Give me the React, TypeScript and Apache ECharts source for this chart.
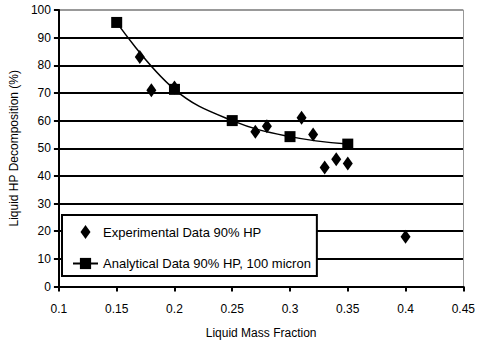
import React, { useEffect, useRef } from "react";
import * as echarts from "echarts";

const expX = [0.17, 0.18, 0.2, 0.27, 0.28, 0.31, 0.32, 0.33, 0.34, 0.35, 0.4];
const expY = [83, 71, 72, 56, 58, 61, 55, 43, 46, 44.5, 18];
const anaX = [0.15, 0.2, 0.25, 0.3, 0.35];
const anaY = [95.5, 71.3, 60, 54.2, 51.5];
const seriesNames = ["Experimental Data 90% HP", "Analytical Data 90% HP, 100 micron"];
const yColors = ["#000", "#000", "#000", "#000", "#000", "#000", "#000", "#000", "#000", "#000", "#999"];
const xColors = ["transparent", "transparent", "transparent", "transparent", "transparent", "transparent", "transparent", "#999"];

const FONT = "'Liberation Sans', Arial, sans-serif";

export default function App() {
  const ref = useRef<HTMLDivElement>(null);
  useEffect(() => {
    const chart = echarts.init(ref.current!, null, { renderer: "svg" });
    chart.setOption({
      animation: false,
      backgroundColor: "#fff",
      textStyle: { fontFamily: FONT, color: "#000" },
      grid: { left: 52, right: 14, top: 10, bottom: 58.5, containLabel: false },
      xAxis: {
        type: "value",
        min: 0.1,
        max: 0.45,
        interval: 0.05,
        name: "Liquid Mass Fraction",
        nameLocation: "middle",
        nameGap: 40,
        nameTextStyle: { fontSize: 12, color: "#000", fontFamily: FONT },
        axisLine: { onZero: false, lineStyle: { color: "#000", width: 2 } },
        axisTick: { show: true, inside: false, length: 5, lineStyle: { color: "#000", width: 2 } },
        axisLabel: { fontSize: 12, color: "#000", margin: 16, fontFamily: FONT },
        splitLine: { show: true, lineStyle: { color: xColors, width: 1 } },
      },
      yAxis: {
        type: "value",
        min: 0,
        max: 100,
        interval: 10,
        name: "Liquid HP Decomposition (%)",
        nameLocation: "middle",
        nameGap: 32,
        nameTextStyle: { fontSize: 12, color: "#000", fontFamily: FONT },
        axisLine: { onZero: false, lineStyle: { color: "#000", width: 2 } },
        axisTick: { show: true, inside: false, length: 5, lineStyle: { color: "#000", width: 2 } },
        axisLabel: { fontSize: 12, color: "#000", margin: 8, fontFamily: FONT },
        splitLine: { show: true, lineStyle: { color: yColors, width: 2 } },
      },
      legend: {
        orient: "vertical",
        left: 62,
        top: 215,
        padding: [10, 6, 6, 10],
        itemWidth: 25,
        itemHeight: 14,
        itemGap: 18,
        symbolKeepAspect: true,
        backgroundColor: "#fff",
        borderColor: "#000",
        borderWidth: 2,
        borderRadius: 0,
        textStyle: { fontSize: 13, color: "#000", fontFamily: FONT },
        data: [
          { name: seriesNames[0], icon: "path://M5,0L10,7L5,14L0,7Z", itemStyle: { color: "#000", opacity: 1 } },
          { name: seriesNames[1] },
        ],
      },
      series: [
        {
          name: seriesNames[0],
          type: "scatter",
          symbol: "diamond",
          symbolSize: [10, 14],
          itemStyle: { color: "#000", opacity: 1 },
          data: expX.map((x, i) => [x, expY[i]]),
          z: 3,
        },
        {
          name: seriesNames[1],
          type: "line",
          smooth: 0.4,
          symbol: "rect",
          symbolSize: 11,
          itemStyle: { color: "#000", opacity: 1 },
          lineStyle: { color: "#000", width: 1.5 },
          data: anaX.map((x, i) => [x, anaY[i]]),
          z: 4,
        },
      ],
    });
    return () => chart.dispose();
  }, []);
  return (
    <div
      ref={ref}
      style={{ position: "fixed", left: 0, top: 0, width: 478, height: 345, background: "#fff" }}
    />
  );
}
